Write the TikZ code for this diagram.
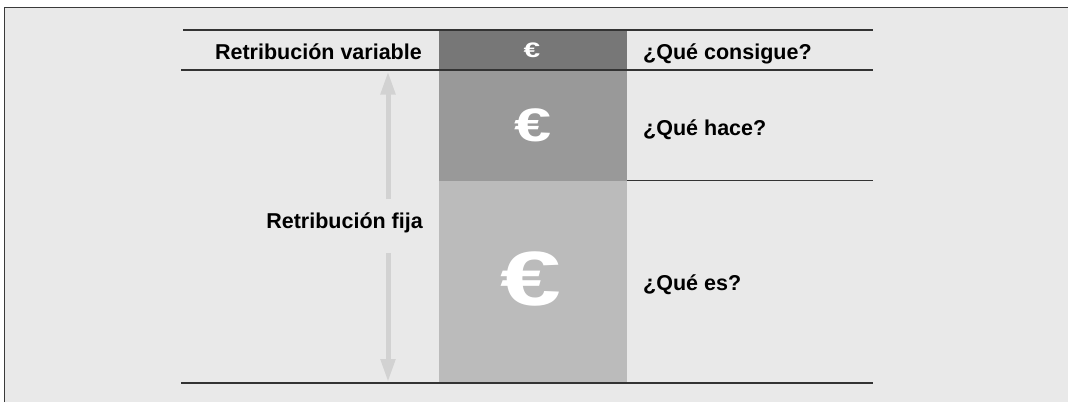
\documentclass[tikz,border=0pt]{standalone}
\usepackage{fontspec}
\usepackage{graphicx}
\setmainfont{Liberation Sans}
\usetikzlibrary{arrows.meta}
\definecolor{bg}{HTML}{E9E9E9}
\definecolor{frame}{HTML}{3A3A3A}
\definecolor{rule}{HTML}{333333}
\definecolor{boxA}{HTML}{777777}
\definecolor{boxB}{HTML}{999999}
\definecolor{boxC}{HTML}{BBBBBB}
\definecolor{arr}{HTML}{D2D2D2}
\newcommand{\wideeuro}{\scalebox{1.42}[1]{€}}
\tikzset{
  lbl/.style={font=\fontsize{21.5}{25}\selectfont\bfseries, text=black, inner sep=0pt},
  euro/.style={text=white, inner sep=0pt, font=\bfseries},
  hrule/.style={draw=rule, line width=1.6pt},
  bigarrow/.style={draw=arr, line width=5pt, -{Triangle[width=14pt,length=23pt]}},
}
\begin{document}
\begin{tikzpicture}[x=1pt,y=-1pt]
\useasboundingbox (0,0) rectangle (1068,402);
\fill[white] (0,0) rectangle (1068,402);
\fill[bg] (4.5,7.5) rectangle (1068,402);
\draw[frame, line width=1.3pt] (4.5,402) -- (4.5,7.5) -- (1068,7.5);
% boxes
\fill[boxA] (439,30) rectangle (627,70);
\fill[boxB] (439,70) rectangle (627,180.5);
\fill[boxC] (439,180.5) rectangle (627,383);
% rules
\coordinate (r1l) at (183,30); \coordinate (r1r) at (873,30);
\coordinate (r2l) at (181,70); \coordinate (r2r) at (873,70);
\coordinate (r3l) at (627,180.5); \coordinate (r3r) at (873,180.5);
\coordinate (r4l) at (181,383); \coordinate (r4r) at (873,383);
\draw[hrule] (r1l) -- (r1r);
\draw[hrule] (r2l) -- (r2r);
\draw[hrule] (r3l) -- (r3r);
\draw[hrule] (r4l) -- (r4r);
% texts
\node[lbl, anchor=base east] (rv) at (422,59) {Retribución variable};
\node[lbl, anchor=base west] (qc) at (643,59) {¿Qué consigue?};
\node[lbl, anchor=base west] (qh) at (643,135.5) {¿Qué hace?};
\node[lbl, anchor=base west] (qe) at (643,290) {¿Qué es?};
\node[lbl, anchor=base east] (rf) at (423,228) {Retribución fija};
% euros
\node[euro, font=\fontsize{21}{24}\selectfont\bfseries] (e1) at (532,50.5) {\wideeuro};
\node[euro, font=\fontsize{47}{50}\selectfont\bfseries] (e2) at (533,125) {\wideeuro};
\node[euro, font=\fontsize{77}{80}\selectfont\bfseries] (e3) at (531,279) {\wideeuro};
% arrows
\coordinate (au0) at (388,199); \coordinate (au1) at (388,71.5);
\coordinate (ad0) at (388,253); \coordinate (ad1) at (388,382);
\draw[bigarrow] (au0) -- (au1);
\draw[bigarrow] (ad0) -- (ad1);
\end{tikzpicture}
\end{document}
